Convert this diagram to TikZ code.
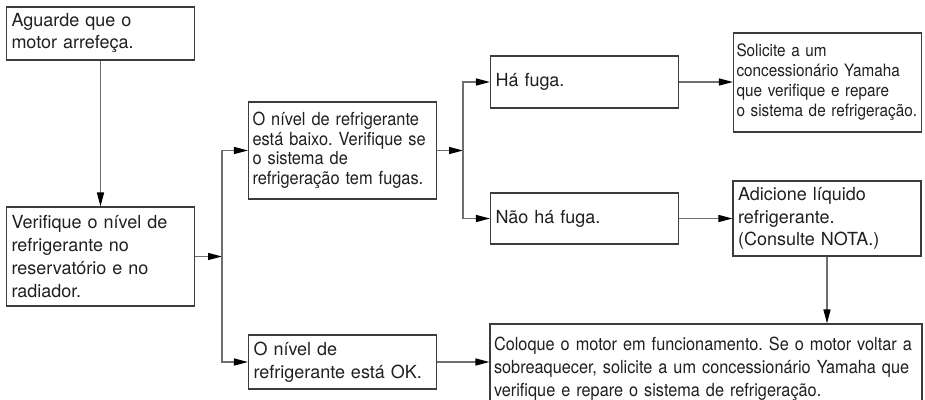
\documentclass[tikz,border=0pt]{standalone}
\usepackage{fontspec}
\setmainfont{TeX Gyre Heros}
\newfontfamily\condfont[FakeStretch=0.91]{TeX Gyre Heros}
\newfontfamily\narrowfont[FakeStretch=0.90]{TeX Gyre Heros}
\newfontfamily\slimfont[FakeStretch=0.905]{TeX Gyre Heros}
\usetikzlibrary{arrows.meta}
\definecolor{linegray}{HTML}{6E6E6E}
\definecolor{edgegray}{HTML}{3C3C3C}
\definecolor{inkgray}{HTML}{231F20}
\frenchspacing
\begin{document}
\begin{tikzpicture}[x=1pt,y=-1pt,
    panel/.style={draw=edgegray, line width=1.1pt, text=inkgray, align=left,
      inner xsep=5pt, inner ysep=0pt, text width=#1},
    panel/.default=178pt,
    big/.style={font=\fontsize{18}{#1}\selectfont},
    flow/.style={draw=linegray, line width=1.3pt,
      -{Triangle[length=14pt,width=7pt,color=black]}}]
    \path[use as bounding box, fill=white] (0,0) rectangle (925,399);
    \clip (0,0) rectangle (925,399);
    % first column
    \node[panel, big=22, minimum height=53pt] (cool) at (100.5,33.5) {Aguarde que o\\motor arrefeça.};
    \node[panel, big=23, minimum height=99pt] (check) at (100.5,256.5) {Verifique o nível de\\refrigerante no\\reservatório e no\\radiador.};
    % second column
    \node[panel, inner xsep=4pt, text width=180pt, minimum height=97pt, font=\condfont\fontsize{18}{19.5}\selectfont] (low) at (342.5,150.5) {O nível de refrigerante\\está baixo. Verifique se\\o sistema de\\refrigeração tem fugas.};
    \node[panel, big=23, minimum height=54pt] (ok) at (342.5,362) {O nível de\\refrigerante está OK.};
    % third column
    \node[panel, big=22, minimum height=52pt] (leak) at (584.5,82) {Há fuga.};
    \node[panel, big=22, minimum height=51pt] (noleak) at (584.5,218.5) {Não há fuga.};
    % last column
    \node[panel, inner xsep=3pt, text width=182pt, minimum height=99pt, font=\narrowfont\fontsize{17}{20}\selectfont] (dealer) at (827.5,82.5) {Solicite a um\\concessionário Yamaha\\que verifique e repare\\o sistema de refrigeração.};
    \node[panel, big=22.5, minimum height=75pt] (refill) at (827,218.5) {Adicione líquido\\refrigerante.\\(Consulte NOTA.)};
    \node[panel=428pt, inner xsep=2pt, minimum height=90pt, font=\slimfont\fontsize{18}{23}\selectfont] (run) at (706,369) {\hspace{2pt}Coloque o motor em funcionamento. Se o motor voltar a\\\hspace{2pt}sobreaquecer, solicite a um concessionário Yamaha que\\\hspace{2pt}verifique e repare o sistema de refrigeração.};
    % forks
    \coordinate (fork1) at (222,256.5);
    \coordinate (fork2) at (463,150.5);
    \draw[flow] (cool) -- (check);
    \draw[flow] (check.east) -- (fork1);
    \draw[flow] (fork1) |- (low.west);
    \draw[flow] (fork1) |- (ok.west);
    \draw[flow] (low.east) -- (fork2);
    \draw[flow] (fork2) |- (leak.west);
    \draw[flow] (fork2) |- (noleak.west);
    \draw[flow] (leak.east) -- (leak.east -| dealer.west);
    \draw[flow] (noleak.east) -- (noleak.east -| refill.west);
    \draw[flow] (refill.south) -- (refill.south |- run.north);
    \draw[flow] (ok.east) -- (ok.east -| run.west);
\end{tikzpicture}
\end{document}
